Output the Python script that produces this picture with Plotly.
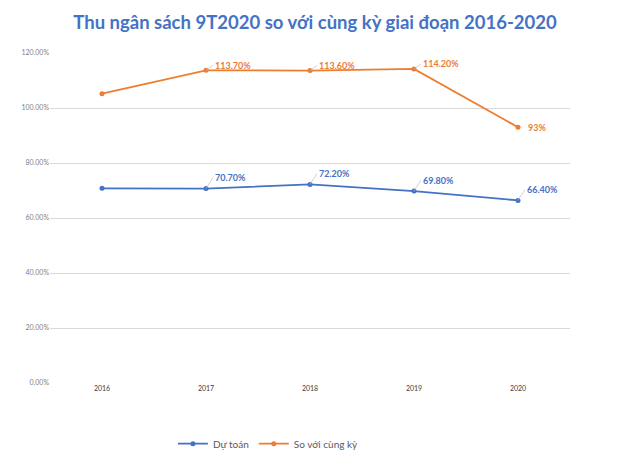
import plotly.graph_objects as go

years = ["2016", "2017", "2018", "2019", "2020"]
du_toan = [70.8, 70.7, 72.2, 69.8, 66.4]
so_voi = [105.2, 113.7, 113.6, 114.2, 93.0]
du_toan_labels = ["", "70.70%", "72.20%", "69.80%", "66.40%"]
so_voi_labels = ["", "113.70%", "113.60%", "114.20%", "93%"]

BLUE = "#4472C4"
ORANGE = "#ED7D31"
FONT = "Lato"

fig = go.Figure()
fig.add_trace(go.Scatter(x=years, y=du_toan, name="Dự toán", mode="lines+markers",
                         line=dict(color=BLUE, width=1.8), marker=dict(size=5, color=BLUE)))
fig.add_trace(go.Scatter(x=years, y=so_voi, name="So với cùng kỳ", mode="lines+markers",
                         line=dict(color=ORANGE, width=1.8), marker=dict(size=5, color=ORANGE)))

anns = []
for i, (v, t) in enumerate(zip(du_toan, du_toan_labels)):
    if t:
        anns.append(dict(x=i, y=v, xref="x", yref="y", text=t, showarrow=True, arrowhead=0,
                         arrowwidth=0.7, arrowcolor="#BFBFBF", ax=7, ay=-11,
                         xanchor="left", yanchor="middle",
                         font=dict(color=BLUE, size=9, family=FONT, weight="bold")))
for i, (v, t) in enumerate(zip(so_voi, so_voi_labels)):
    if t:
        if t == "93%":
            anns.append(dict(x=i, y=v, xref="x", yref="y", text=t, showarrow=False,
                             xanchor="left", yanchor="middle", xshift=8,
                             font=dict(color=ORANGE, size=9, family=FONT, weight="bold")))
        else:
            anns.append(dict(x=i, y=v, xref="x", yref="y", text=t, showarrow=True, arrowhead=0,
                             arrowwidth=0.7, arrowcolor="#BFBFBF", ax=7, ay=-5,
                             xanchor="left", yanchor="middle",
                             font=dict(color=ORANGE, size=9, family=FONT, weight="bold")))

fig.update_layout(
    width=630, height=470,
    margin=dict(l=50, r=60, t=53, b=85),
    paper_bgcolor="white", plot_bgcolor="white",
    font=dict(family=FONT),
    title=dict(text="<b>Thu ngân sách 9T2020 so với cùng kỳ giai đoạn 2016-2020</b>",
               x=0.5, xanchor="center", y=0.952, yanchor="middle",
               font=dict(size=18.5, color="#4472C4", family=FONT)),
    xaxis=dict(type="category", range=[-0.5, 4.5], showgrid=False, showline=False,
               zeroline=False, ticks="", tickfont=dict(size=7, color="#404040")),
    yaxis=dict(range=[0, 120], dtick=20, showgrid=True, gridcolor="#D9D9D9", gridwidth=1,
               zeroline=False, showline=False, ticksuffix="%", tickformat=".2f",
               tickfont=dict(size=7, color="#7F7F7F")),
    legend=dict(orientation="h", x=0.42, xanchor="center", y=-0.14, yanchor="top",
                itemwidth=30, font=dict(size=10, color="#595959")),
    annotations=anns,
    showlegend=True,
)
fig.write_html("out.html")
